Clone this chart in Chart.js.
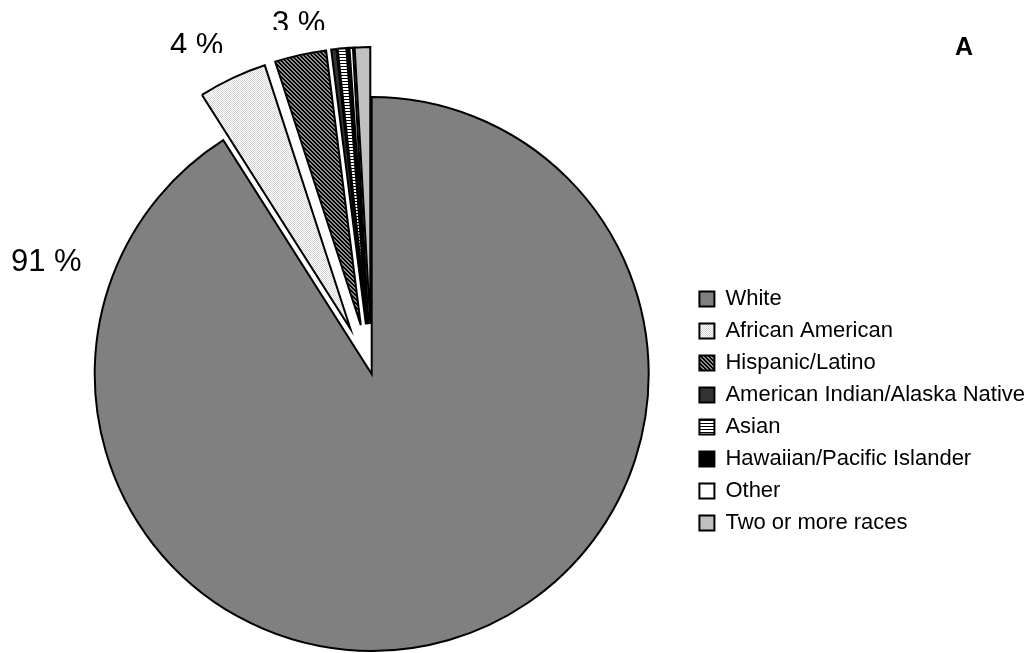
<!DOCTYPE html>
<html>
<head>
<meta charset="utf-8">
<script src="https://cdn.jsdelivr.net/npm/chart.js@4.4.1/dist/chart.umd.min.js"></script>
<style>
	html, body { margin: 0; padding: 0; background: #fff; }
</style>
</head>
<body>
<canvas id="chart" width="1035" height="653"></canvas>
<script>
const groups = [
	'White',
	'African American',
	'Hispanic/Latino',
	'American Indian/Alaska Native',
	'Asian',
	'Hawaiian/Pacific Islander',
	'Other',
	'Two or more races'
];
const shares = [91, 4, 3, 0.3, 0.5, 0.1, 0.2, 0.9]; // percent of respondents
const labelledGroups = ['White', 'African American', 'Hispanic/Latino'];
const panelLetter = 'A';

const FONT = '"Liberation Sans", Arial, sans-serif';

// small tiles used as hatch fills
function makePattern(w, h, bg, paint) {
	const tile = document.createElement('canvas');
	tile.width = w;
	tile.height = h;
	const g = tile.getContext('2d');
	g.fillStyle = bg;
	g.fillRect(0, 0, w, h);
	paint(g);
	return g.createPattern(tile, 'repeat');
}

const dotted = makePattern(2, 2, '#ffffff', g => {
	g.fillStyle = '#d4d4d4';
	g.fillRect(0, 0, 1, 1);
	g.fillRect(1, 1, 1, 1);
});

const hatched = makePattern(4, 4, '#8c8c8c', g => {
	g.fillStyle = '#000000';
	for (let y = 0; y < 4; y++) {
		for (let x = 0; x < 4; x++) {
			if ((x - y + 4) % 4 < 2) g.fillRect(x, y, 1, 1);
		}
	}
});

const striped = makePattern(1, 3, '#ffffff', g => {
	g.fillStyle = '#000000';
	g.fillRect(0, 0, 1, 1);
});

const fills = ['#808080', dotted, hatched, '#333333', striped, '#000000', '#ffffff', '#c0c0c0'];

// pulls slices out along their own bisector
const explodePlugin = {
	id: 'explode',
	beforeDatasetDraw(chart, args, opts) {
		args.meta.data.forEach((arc, i) => {
			const d = opts.distance[i] || 0;
			const mid = (arc.startAngle + arc.endAngle) / 2;
			arc.$home = { x: arc.x, y: arc.y };
			arc.x += Math.cos(mid) * d;
			arc.y += Math.sin(mid) * d;
		});
	},
	afterDatasetDraw(chart, args) {
		args.meta.data.forEach(arc => {
			if (arc.$home) {
				arc.x = arc.$home.x;
				arc.y = arc.$home.y;
			}
		});
	}
};

// percentage labels (their boxes cut the bottoms off) and the panel letter
const labelPlugin = {
	id: 'sliceLabels',
	afterDatasetsDraw(chart, args, opts) {
		const ctx = chart.ctx;
		const values = chart.data.datasets[0].data;
		ctx.save();
		ctx.fillStyle = '#000';
		ctx.textBaseline = 'alphabetic';
		ctx.textAlign = 'left';
		ctx.font = '31px ' + FONT;
		labelledGroups.forEach((group, k) => {
			const spot = opts.spots[k];
			const i = chart.data.labels.indexOf(group);
			ctx.save();
			ctx.beginPath();
			ctx.rect(spot.x - 4, 0, 120, spot.clip);
			ctx.clip();
			ctx.fillText(Math.round(values[i]) + ' %', spot.x, spot.y);
			ctx.restore();
		});
		ctx.font = 'bold 25px ' + FONT;
		ctx.fillText(panelLetter, opts.letter.x, opts.letter.y);
		ctx.restore();
	}
};

new Chart(document.getElementById('chart'), {
	type: 'pie',
	data: {
		labels: groups,
		datasets: [{
			data: shares,
			backgroundColor: fills,
			borderColor: '#000000',
			borderWidth: 2,
			borderJoinStyle: 'miter',
			clip: false
		}]
	},
	options: {
		responsive: false,
		animation: false,
		events: [],
		radius: 277,
		layout: {
			padding: { left: 54, top: 204, right: 0, bottom: 109 }
		},
		plugins: {
			tooltip: { enabled: false },
			legend: {
				position: 'right',
				align: 'end',
				labels: {
					font: { family: FONT, size: 22 },
					color: '#000',
					boxWidth: 15,
					boxHeight: 15,
					padding: 10
				}
			},
			explode: {
				distance: [0, 50, 50, 50, 50, 50, 50, 50]
			},
			sliceLabels: {
				spots: [
					{ x: 11, y: 271, clip: 271 },
					{ x: 170, y: 55, clip: 53 },
					{ x: 272, y: 33, clip: 30 }
				],
				letter: { x: 955, y: 55 }
			}
		}
	},
	plugins: [explodePlugin, labelPlugin]
});
</script>
</body>
</html>
